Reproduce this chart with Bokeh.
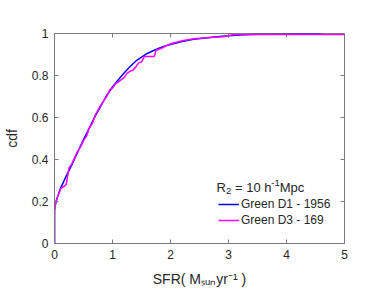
from bokeh.plotting import figure
from bokeh.models import Range1d, FixedTicker, Legend, LegendItem, Label
from bokeh.embed import file_html
from bokeh.resources import INLINE
import math

# ---- data ----
d1_x = [0, 0, 0.02, 0.05, 0.1, 0.15, 0.2, 0.3, 0.4, 0.5, 0.6, 0.7, 0.8, 0.9, 1.0,
        1.1, 1.2, 1.3, 1.4, 1.5, 1.6, 1.7, 1.8, 1.9, 2.0, 2.2, 2.4, 2.6, 2.8, 3.0,
        3.2, 3.5, 4.0, 4.6]
d1_y = [0, 0.16, 0.19, 0.22, 0.26, 0.29, 0.32, 0.375, 0.435, 0.495, 0.55, 0.605,
        0.655, 0.705, 0.745, 0.78, 0.812, 0.842, 0.868, 0.888, 0.905, 0.918, 0.93,
        0.94, 0.948, 0.962, 0.972, 0.979, 0.985, 0.989, 0.993, 0.996, 0.998, 1.0]

d3_x = [0, 0, 0.02, 0.05, 0.08, 0.1, 0.15, 0.2, 0.22, 0.25, 0.3, 0.35, 0.4, 0.45,
        0.5, 0.55, 0.6, 0.65, 0.7, 0.8, 0.9, 0.95, 1.0, 1.05, 1.1, 1.2, 1.25,
        1.3, 1.35, 1.4, 1.45, 1.5, 1.55, 1.72, 1.75, 1.85, 1.95, 2.05, 2.2, 2.4,
        2.6, 2.9, 3.1, 5.0]
d3_y = [0, 0.15, 0.20, 0.22, 0.24, 0.26, 0.27, 0.28, 0.31, 0.36, 0.38, 0.41, 0.44,
        0.46, 0.49, 0.51, 0.55, 0.57, 0.61, 0.66, 0.70, 0.73, 0.74, 0.76, 0.77,
        0.79, 0.81, 0.82, 0.825, 0.84, 0.86, 0.865, 0.89, 0.89, 0.92, 0.93, 0.945,
        0.955, 0.965, 0.975, 0.98, 0.985, 0.995, 0.995]

x_ticks = [0, 1, 2, 3, 4, 5]
x_tick_labels = ["0", "1", "2", "3", "4", "5"]
y_ticks = [0, 0.2, 0.4, 0.6, 0.8, 1]
y_tick_labels = ["0", "0.2", "0.4", "0.6", "0.8", "1"]

series_labels = ["Green D1 - 1956", "Green D3 - 169"]
x_label = "SFR( M\u209b\u1d64\u2099yr\u207b\u00b9 )"
y_label = "cdf"

TXT = "#262626"
FRAME = "#7a7a7a"
FONT = "Liberation Sans"
X0, X1 = 0, 5
Y0, Y1 = 0, 1

p = figure(width=374, height=297, output_backend="svg", toolbar_location=None,
           x_range=Range1d(X0, X1), y_range=Range1d(Y0, Y1),
           min_border_left=51, min_border_right=30, min_border_top=33,
           min_border_bottom=54, background_fill_color="white",
           border_fill_color="white")
p.xgrid.visible = False
p.ygrid.visible = False
p.outline_line_color = FRAME
p.outline_line_width = 1

for ax, ticks, labels in ((p.xaxis[0], x_ticks, x_tick_labels),
                          (p.yaxis[0], y_ticks, y_tick_labels)):
    ax.ticker = FixedTicker(ticks=ticks)
    ax.major_label_overrides = {t: l for t, l in zip(ticks, labels)}
    ax.major_tick_in = 4
    ax.major_tick_out = 0
    ax.minor_tick_in = 0
    ax.minor_tick_out = 0
    ax.major_tick_line_color = FRAME
    ax.axis_line_color = FRAME
    ax.major_label_text_color = TXT
    ax.major_label_text_font = FONT
    ax.major_label_text_font_size = "12px"
    ax.major_label_standoff = 6
    ax.axis_label_text_font = FONT
    ax.axis_label_text_font_size = "14px"
    ax.axis_label_text_font_style = "normal"
    ax.axis_label_text_color = TXT

p.xaxis[0].axis_label = x_label
p.xaxis[0].axis_label_standoff = 9
p.yaxis[0].axis_label = y_label
p.yaxis[0].axis_label_standoff = 9

# inward ticks on top and right edges (half of each dash is clipped by the frame)
p.scatter(x_ticks, [Y1] * len(x_ticks), marker="dash", size=8, angle=math.pi / 2,
          line_color=FRAME, line_width=1)
p.scatter([X1] * len(y_ticks), y_ticks, marker="dash", size=8, angle=0,
          line_color=FRAME, line_width=1)

r1 = p.line(d1_x, d1_y, line_color="#0000ff", line_width=1.5)
r3 = p.line(d3_x, d3_y, line_color="#ff00ff", line_width=1.5)

legend = Legend(items=[LegendItem(label=series_labels[0], renderers=[r1]),
                       LegendItem(label=series_labels[1], renderers=[r3])],
                location=(164, 15), orientation="vertical",
                border_line_color=None, background_fill_alpha=0,
                padding=0, margin=0, spacing=0,
                glyph_width=21, glyph_height=16, label_height=16,
                label_standoff=2, label_text_font_size="12px",
                label_text_font=FONT, label_text_color=TXT)
p.add_layout(legend)


def lab(text, dx, dy, size):
    p.add_layout(Label(x=X0, y=Y0, x_offset=dx, y_offset=dy, text=text,
                       text_font=FONT, text_font_size=size, text_color=TXT,
                       text_align="left", text_baseline="alphabetic"))


# legend title: R_2 = 10 h^-1 Mpc
lab("R", 162, 56, "13px")
lab("2", 171.4, 52.5, "9.5px")
lab("= 10 h", 180.5, 56, "13px")
lab("-1", 216.8, 61, "9.5px")
lab("Mpc", 225.2, 56, "13px")

open("out.html", "w").write(file_html(p, INLINE))
